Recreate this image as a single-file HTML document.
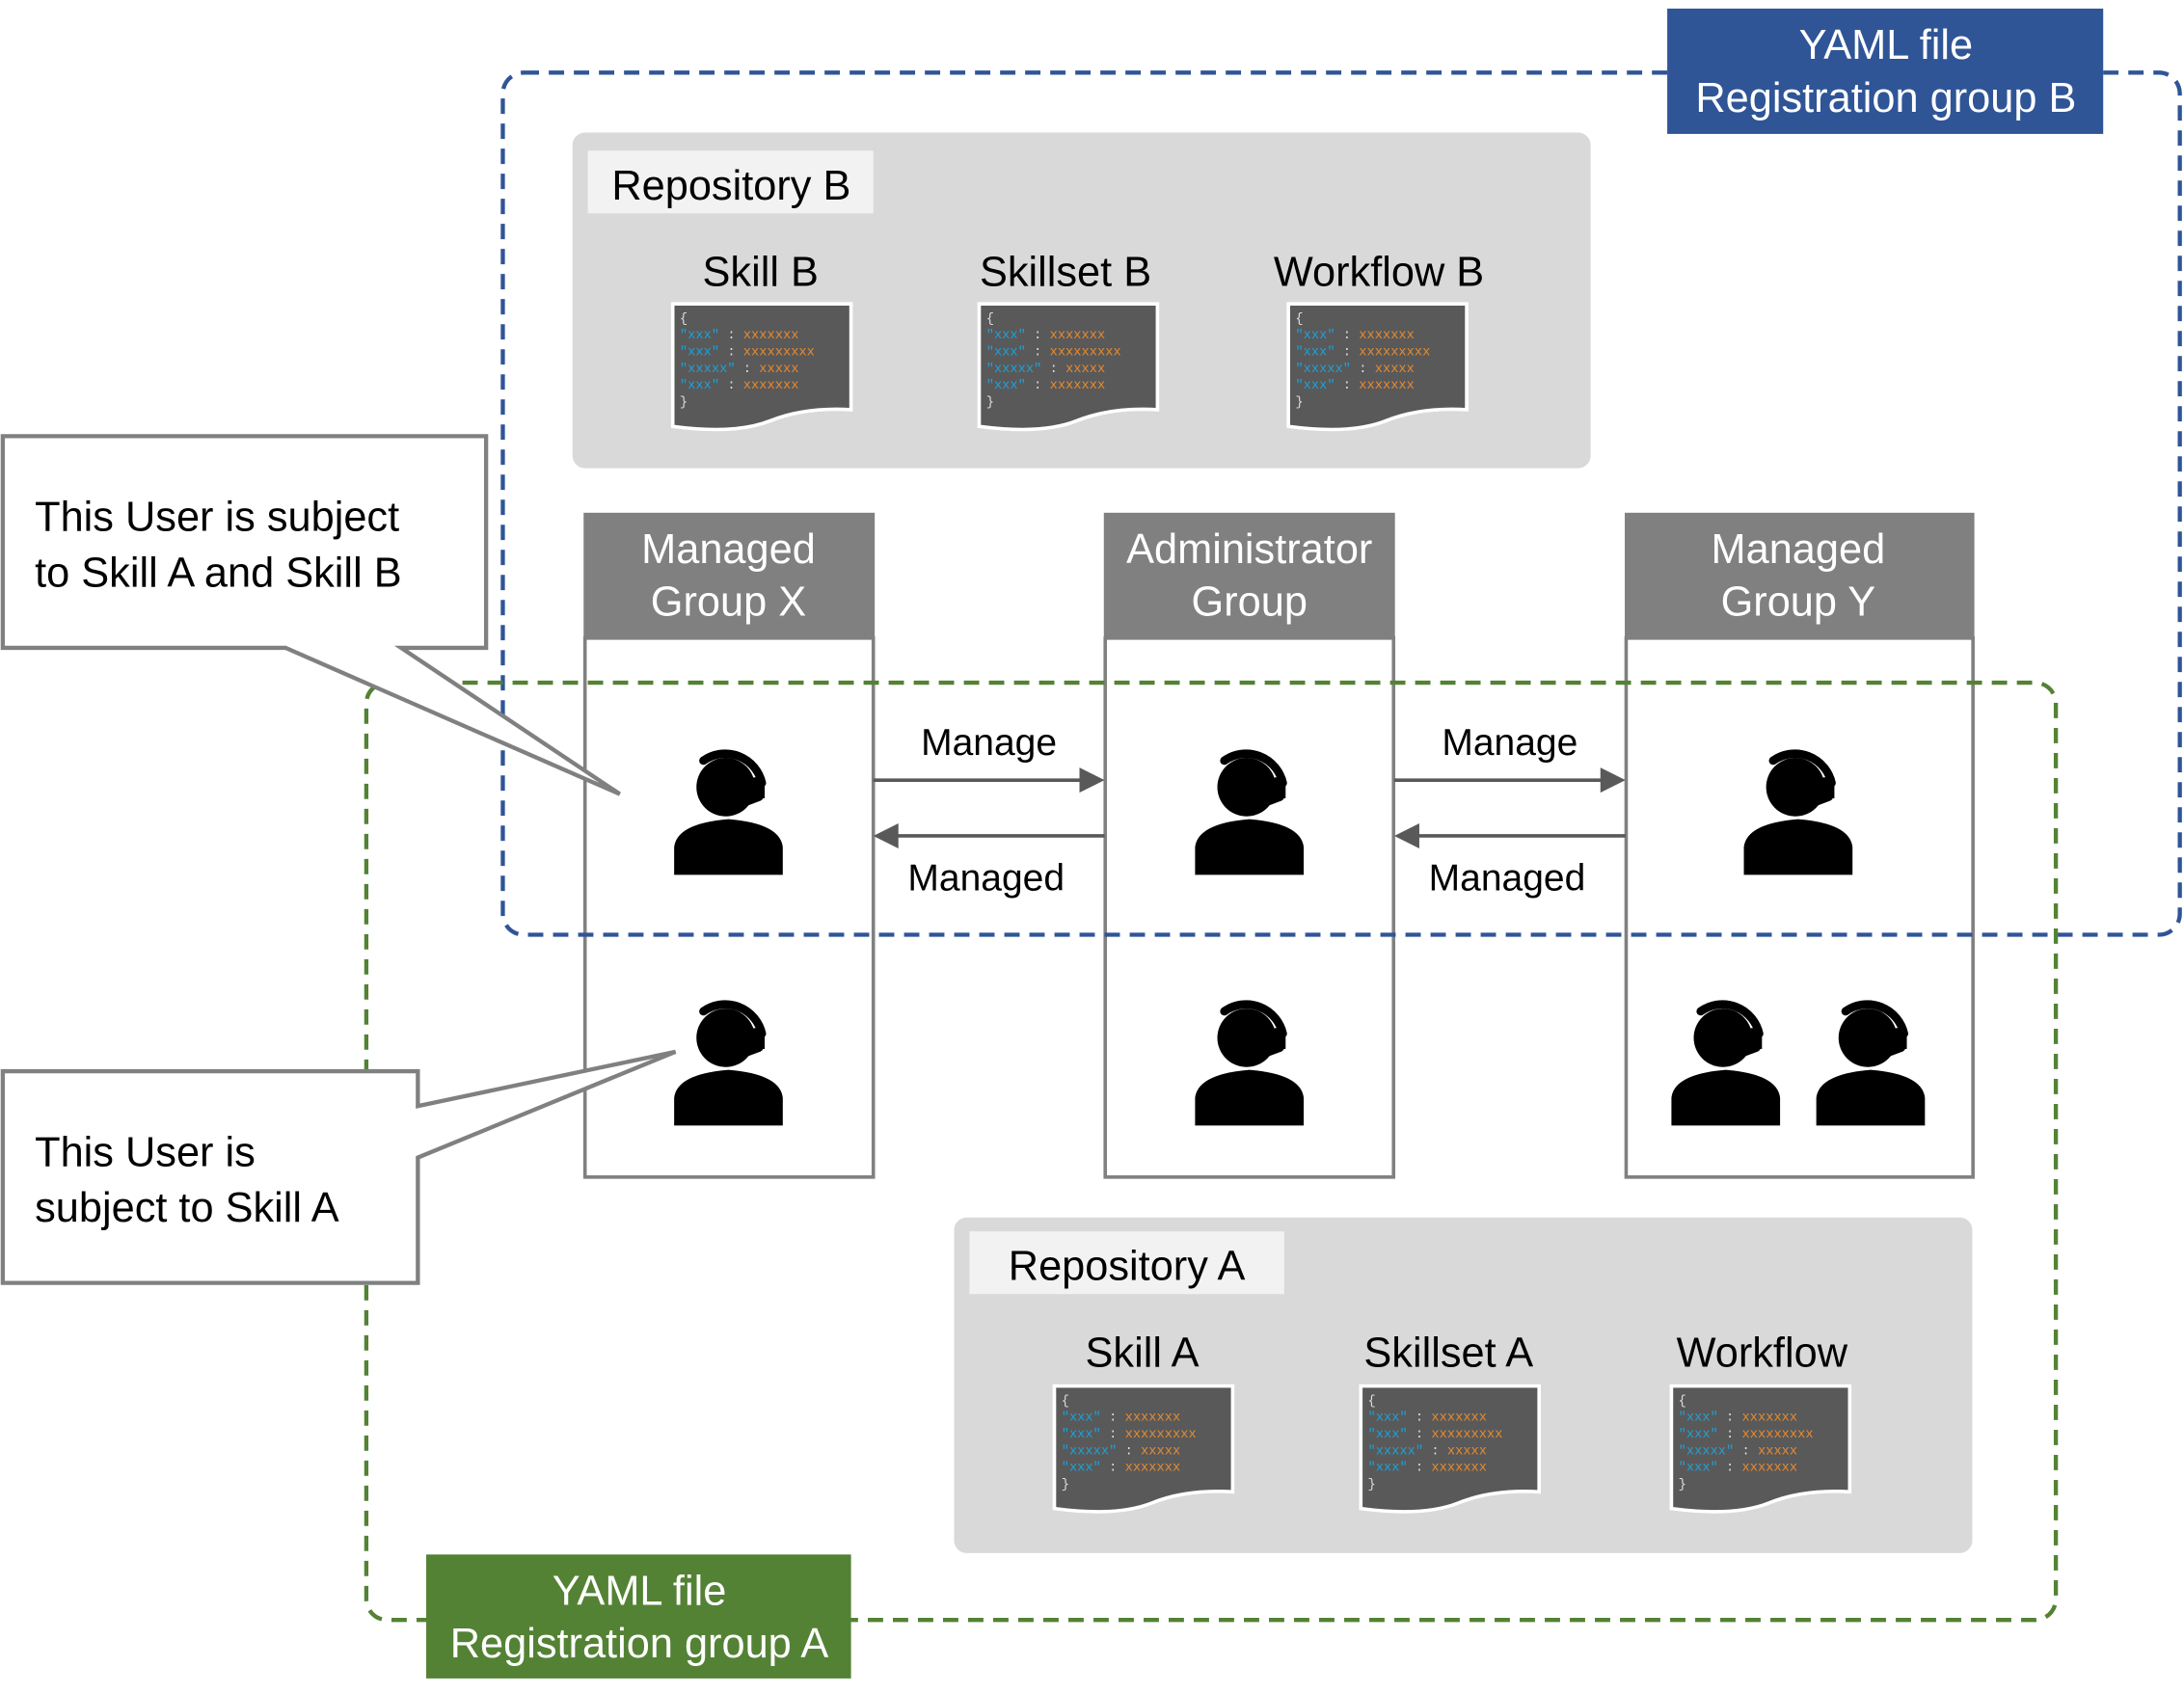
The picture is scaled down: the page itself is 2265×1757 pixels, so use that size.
<!DOCTYPE html>
<html><head><meta charset="utf-8"><style>
html,body{margin:0;padding:0;background:#fff;}
svg{display:block;}
text{font-family:"Liberation Sans",Arial,sans-serif;}
.dk{font-family:"Liberation Mono",monospace;font-size:9.5px;}
</style></head><body>
<svg width="2265" height="1757" viewBox="0 0 1568 1216" xmlns="http://www.w3.org/2000/svg">
<defs>
<g id="doc">
<path d="M0,0 H128 V76 Q95,74 70,84 Q45,94 0,88 Z" fill="#595959" stroke="#fff" stroke-width="2.5"/>
</g>
<g id="usr">
<circle cx="-2" cy="27" r="21" fill="#000"/>
<path d="M-18,8 A27,27 0 0 1 24,24" fill="none" stroke="#000" stroke-width="6" stroke-linecap="round"/>
<rect x="18" y="20" width="8" height="15" fill="#000"/>
<path d="M22,34 L6,40" stroke="#000" stroke-width="6" stroke-linecap="round"/>
<path d="M-39,90 L-39,70 Q-37,53 0,50 Q37,53 39,70 L39,90 Z" fill="#000"/>
</g>
</defs>

<!-- Repository B -->
<rect x="411" y="95" width="731" height="241" rx="9" fill="#d9d9d9"/>
<rect x="422" y="108" width="205" height="45" fill="#f2f2f2"/>
<text x="525" y="143" font-size="30" text-anchor="middle">Repository B</text>
<text x="546" y="205" font-size="30" text-anchor="middle">Skill B</text>
<text x="765" y="205" font-size="30" text-anchor="middle">Skillset B</text>
<text x="990" y="205" font-size="30" text-anchor="middle">Workflow B</text>

<!-- Repository A -->
<rect x="685" y="874" width="731" height="241" rx="9" fill="#d9d9d9"/>
<rect x="696" y="884" width="226" height="45" fill="#f2f2f2"/>
<text x="809" y="919" font-size="30" text-anchor="middle">Repository A</text>
<text x="820" y="981" font-size="30" text-anchor="middle">Skill A</text>
<text x="1040" y="981" font-size="30" text-anchor="middle">Skillset A</text>
<text x="1265" y="981" font-size="30" text-anchor="middle">Workflow</text>

<!-- docs -->
<g transform="translate(483,218)"><use href="#doc"/>
<text class="dk" x="5" y="13" fill="#ddd">{</text>
<text class="dk" x="5" y="25"><tspan fill="#1fa0d8">"xxx"</tspan><tspan fill="#ddd"> : </tspan><tspan fill="#e88a30">xxxxxxx</tspan></text>
<text class="dk" x="5" y="37"><tspan fill="#1fa0d8">"xxx"</tspan><tspan fill="#ddd"> : </tspan><tspan fill="#e88a30">xxxxxxxxx</tspan></text>
<text class="dk" x="5" y="49"><tspan fill="#1fa0d8">"xxxxx"</tspan><tspan fill="#ddd"> : </tspan><tspan fill="#e88a30">xxxxx</tspan></text>
<text class="dk" x="5" y="61"><tspan fill="#1fa0d8">"xxx"</tspan><tspan fill="#ddd"> : </tspan><tspan fill="#e88a30">xxxxxxx</tspan></text>
<text class="dk" x="5" y="73" fill="#ddd">}</text></g>
<g transform="translate(703,218)"><use href="#doc"/>
<text class="dk" x="5" y="13" fill="#ddd">{</text>
<text class="dk" x="5" y="25"><tspan fill="#1fa0d8">"xxx"</tspan><tspan fill="#ddd"> : </tspan><tspan fill="#e88a30">xxxxxxx</tspan></text>
<text class="dk" x="5" y="37"><tspan fill="#1fa0d8">"xxx"</tspan><tspan fill="#ddd"> : </tspan><tspan fill="#e88a30">xxxxxxxxx</tspan></text>
<text class="dk" x="5" y="49"><tspan fill="#1fa0d8">"xxxxx"</tspan><tspan fill="#ddd"> : </tspan><tspan fill="#e88a30">xxxxx</tspan></text>
<text class="dk" x="5" y="61"><tspan fill="#1fa0d8">"xxx"</tspan><tspan fill="#ddd"> : </tspan><tspan fill="#e88a30">xxxxxxx</tspan></text>
<text class="dk" x="5" y="73" fill="#ddd">}</text></g>
<g transform="translate(925,218)"><use href="#doc"/>
<text class="dk" x="5" y="13" fill="#ddd">{</text>
<text class="dk" x="5" y="25"><tspan fill="#1fa0d8">"xxx"</tspan><tspan fill="#ddd"> : </tspan><tspan fill="#e88a30">xxxxxxx</tspan></text>
<text class="dk" x="5" y="37"><tspan fill="#1fa0d8">"xxx"</tspan><tspan fill="#ddd"> : </tspan><tspan fill="#e88a30">xxxxxxxxx</tspan></text>
<text class="dk" x="5" y="49"><tspan fill="#1fa0d8">"xxxxx"</tspan><tspan fill="#ddd"> : </tspan><tspan fill="#e88a30">xxxxx</tspan></text>
<text class="dk" x="5" y="61"><tspan fill="#1fa0d8">"xxx"</tspan><tspan fill="#ddd"> : </tspan><tspan fill="#e88a30">xxxxxxx</tspan></text>
<text class="dk" x="5" y="73" fill="#ddd">}</text></g>
<g transform="translate(757,995)"><use href="#doc"/>
<text class="dk" x="5" y="13" fill="#ddd">{</text>
<text class="dk" x="5" y="25"><tspan fill="#1fa0d8">"xxx"</tspan><tspan fill="#ddd"> : </tspan><tspan fill="#e88a30">xxxxxxx</tspan></text>
<text class="dk" x="5" y="37"><tspan fill="#1fa0d8">"xxx"</tspan><tspan fill="#ddd"> : </tspan><tspan fill="#e88a30">xxxxxxxxx</tspan></text>
<text class="dk" x="5" y="49"><tspan fill="#1fa0d8">"xxxxx"</tspan><tspan fill="#ddd"> : </tspan><tspan fill="#e88a30">xxxxx</tspan></text>
<text class="dk" x="5" y="61"><tspan fill="#1fa0d8">"xxx"</tspan><tspan fill="#ddd"> : </tspan><tspan fill="#e88a30">xxxxxxx</tspan></text>
<text class="dk" x="5" y="73" fill="#ddd">}</text></g>
<g transform="translate(977,995)"><use href="#doc"/>
<text class="dk" x="5" y="13" fill="#ddd">{</text>
<text class="dk" x="5" y="25"><tspan fill="#1fa0d8">"xxx"</tspan><tspan fill="#ddd"> : </tspan><tspan fill="#e88a30">xxxxxxx</tspan></text>
<text class="dk" x="5" y="37"><tspan fill="#1fa0d8">"xxx"</tspan><tspan fill="#ddd"> : </tspan><tspan fill="#e88a30">xxxxxxxxx</tspan></text>
<text class="dk" x="5" y="49"><tspan fill="#1fa0d8">"xxxxx"</tspan><tspan fill="#ddd"> : </tspan><tspan fill="#e88a30">xxxxx</tspan></text>
<text class="dk" x="5" y="61"><tspan fill="#1fa0d8">"xxx"</tspan><tspan fill="#ddd"> : </tspan><tspan fill="#e88a30">xxxxxxx</tspan></text>
<text class="dk" x="5" y="73" fill="#ddd">}</text></g>
<g transform="translate(1200,995)"><use href="#doc"/>
<text class="dk" x="5" y="13" fill="#ddd">{</text>
<text class="dk" x="5" y="25"><tspan fill="#1fa0d8">"xxx"</tspan><tspan fill="#ddd"> : </tspan><tspan fill="#e88a30">xxxxxxx</tspan></text>
<text class="dk" x="5" y="37"><tspan fill="#1fa0d8">"xxx"</tspan><tspan fill="#ddd"> : </tspan><tspan fill="#e88a30">xxxxxxxxx</tspan></text>
<text class="dk" x="5" y="49"><tspan fill="#1fa0d8">"xxxxx"</tspan><tspan fill="#ddd"> : </tspan><tspan fill="#e88a30">xxxxx</tspan></text>
<text class="dk" x="5" y="61"><tspan fill="#1fa0d8">"xxx"</tspan><tspan fill="#ddd"> : </tspan><tspan fill="#e88a30">xxxxxxx</tspan></text>
<text class="dk" x="5" y="73" fill="#ddd">}</text></g>

<!-- columns -->
<g stroke="#808080" stroke-width="2.5">
<rect x="420" y="458" width="207" height="387" fill="#fff"/>
<rect x="793.5" y="458" width="207" height="387" fill="#fff"/>
<rect x="1167.5" y="458" width="249" height="387" fill="#fff"/>
</g>
<rect x="419" y="368" width="209" height="90" fill="#808080"/>
<rect x="792.5" y="368" width="209" height="90" fill="#808080"/>
<rect x="1166.5" y="368" width="251" height="90" fill="#808080"/>
<g fill="#fff" font-size="30" text-anchor="middle">
<text x="523" y="404">Managed</text><text x="523" y="442">Group X</text>
<text x="897" y="404">Administrator</text><text x="897" y="442">Group</text>
<text x="1291" y="404">Managed</text><text x="1291" y="442">Group Y</text>
</g>

<!-- users -->
<use href="#usr" x="523" y="538"/>
<use href="#usr" x="523" y="718"/>
<use href="#usr" x="897" y="538"/>
<use href="#usr" x="897" y="718"/>
<use href="#usr" x="1291" y="538"/>
<use href="#usr" x="1239" y="718"/>
<use href="#usr" x="1343" y="718"/>

<!-- arrows -->
<g stroke="#595959" stroke-width="2.5">
<line x1="627" y1="560" x2="778" y2="560"/>
<line x1="642" y1="600" x2="793" y2="600"/>
<line x1="1001" y1="560" x2="1152" y2="560"/>
<line x1="1016" y1="600" x2="1167" y2="600"/>
</g>
<g fill="#595959">
<polygon points="793,560 775,551 775,569"/>
<polygon points="627,600 645,591 645,609"/>
<polygon points="1167,560 1149,551 1149,569"/>
<polygon points="1001,600 1019,591 1019,609"/>
</g>
<g font-size="27" text-anchor="middle">
<text x="710" y="542">Manage</text><text x="708" y="639">Managed</text>
<text x="1084" y="542">Manage</text><text x="1082" y="639">Managed</text>
</g>

<!-- dashed groups -->
<rect x="361" y="52" width="1204" height="619" rx="15" fill="none" stroke="#2f5597" stroke-width="3" stroke-dasharray="11,7"/>
<rect x="263" y="490" width="1213" height="673" rx="15" fill="none" stroke="#548235" stroke-width="3" stroke-dasharray="11,7"/>

<rect x="1197" y="6" width="313" height="90" fill="#2f5597"/>
<g fill="#fff" font-size="30" text-anchor="middle">
<text x="1354" y="42">YAML file</text><text x="1354" y="80">Registration group B</text></g>
<rect x="306" y="1116" width="305" height="89" fill="#548235"/>
<g fill="#fff" font-size="30" text-anchor="middle">
<text x="459" y="1152">YAML file</text><text x="459" y="1190">Registration group A</text></g>

<!-- callouts -->
<path d="M2,313 H349 V465 H288 L445,570 L205,465 H2 Z" fill="#fff" stroke="#808080" stroke-width="3"/>
<g font-size="30"><text x="25" y="381">This User is subject</text><text x="25" y="421">to Skill A and Skill B</text></g>
<path d="M2,769 H300 V794 L485,755 L300,831 V921 H2 Z" fill="#fff" stroke="#808080" stroke-width="3"/>
<g font-size="30"><text x="25" y="837">This User is</text><text x="25" y="877">subject to Skill A</text></g>
</svg>
</body></html>
